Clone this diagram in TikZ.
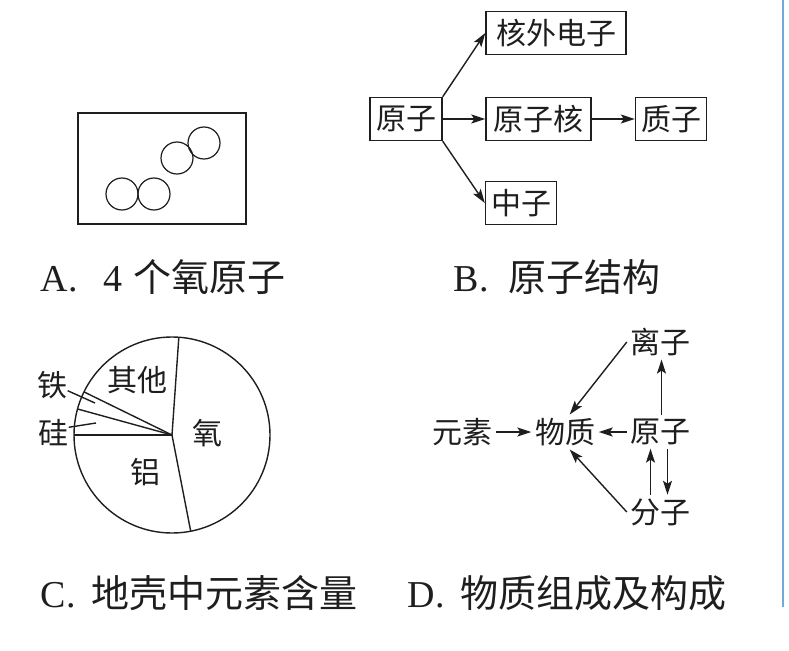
\documentclass[tikz,border=0pt]{standalone}
\usepackage{fontspec}
\setmainfont{Liberation Serif}
\newfontfamily\cjk{Noto Sans CJK SC}
\usetikzlibrary{arrows.meta,calc}
\definecolor{ink}{RGB}{30,30,30}
\definecolor{rule}{RGB}{115,168,215}

\begin{document}
\begin{tikzpicture}[x=1pt,y=-1pt,ink,line width=1.4pt,
  box/.style={draw,inner sep=0pt,minimum height=43pt,font=\cjk\fontsize{30}{30}\selectfont},
  lab/.style={inner sep=3pt,font=\cjk\fontsize{30}{30}\selectfont},
  captext/.style={anchor=base west,inner sep=0pt,font=\fontsize{38}{40}\selectfont},
  arr/.style={-{Stealth[length=14pt,width=9pt,inset=3pt]}}]
\useasboundingbox (0,0) rectangle (789,650);
\draw[rule,line width=2pt] (783,0)--(783,607);

\draw (78,113) rectangle (246,224);
\foreach \cx/\cy in {122/194,154/194,177/158,204/143}
  \draw[line width=1.2pt] (\cx,\cy) circle (16);
\node[captext] (capA) at (40,291) {A.\hspace{26pt}4\hspace{11pt}{\cjk 个氧原子}};

\node[box,minimum width=72pt] (yz) at (406,119) {原子};
\node[box,minimum width=140pt] (hw) at (556,33) {核外电子};
\node[box,minimum width=105pt] (hz) at (538.5,119) {原子核};
\node[box,minimum width=71pt] (zz) at (671,119) {质子};
\node[box,minimum width=71pt] (nz) at (521,203) {中子};
\draw[arr] (yz.north east) -- (hw.west);
\draw[arr] (yz.east) -- (hz.west);
\draw[arr] (yz.south east) -- (nz.west);
\draw[arr] (hz.east) -- (zz.west);
\node[captext] (capB) at (453,291) {B.\hspace{20pt}{\cjk 原子结构}};

\coordinate (o) at (172,435);
\draw (o) circle (98);
\foreach \a in {-86,79,180,-164.6,-153.9}
  \draw (o) -- ++(\a:98);
\node[lab,inner sep=0pt] (qt) at (137,380) {其他};
\node[lab,inner sep=0pt] (ox) at (207,433) {氧};
\node[lab,inner sep=0pt] (al) at (145,472) {铝};
\node[lab,inner sep=0pt] (fe) at (52,385) {铁};
\node[lab,inner sep=0pt] (si) at (53,433) {硅};
\coordinate (fe-p) at (95,403);
\coordinate (si-p) at (96,423);
\draw (fe.-20) -- (fe-p);
\draw (si.20) -- (si-p);
\node[captext] (capC) at (40,607) {C.\hspace{16pt}{\cjk 地壳中元素含量}};

\node[lab] (ys) at (462.5,432) {元素};
\node[lab] (wz) at (565,432) {物质};
\node[lab] (ya) at (660.5,432) {原子};
\node[lab] (lz) at (660.5,342) {离子};
\node[lab] (fz) at (660.5,512) {分子};
\draw[arr] (ys.east) -- (wz.west);
\draw[arr] (ya.west) -- (wz.east);
\draw[arr] ($(ya.north)+(1,0)$) -- ($(lz.south)+(1,0)$);
\draw[arr] (lz.west) -- (wz.75);
\draw[arr] (fz.west) -- (wz.-75);
\draw[arr] ($(fz.north)+(-10,0)$) -- ($(ya.south)+(-10,0)$);
\draw[arr] ($(ya.south)+(7,0)$) -- ($(fz.north)+(7,0)$);
\node[captext] (capD) at (407,607) {D.\hspace{16pt}{\cjk 物质组成及构成}};
\end{tikzpicture}
\end{document}
